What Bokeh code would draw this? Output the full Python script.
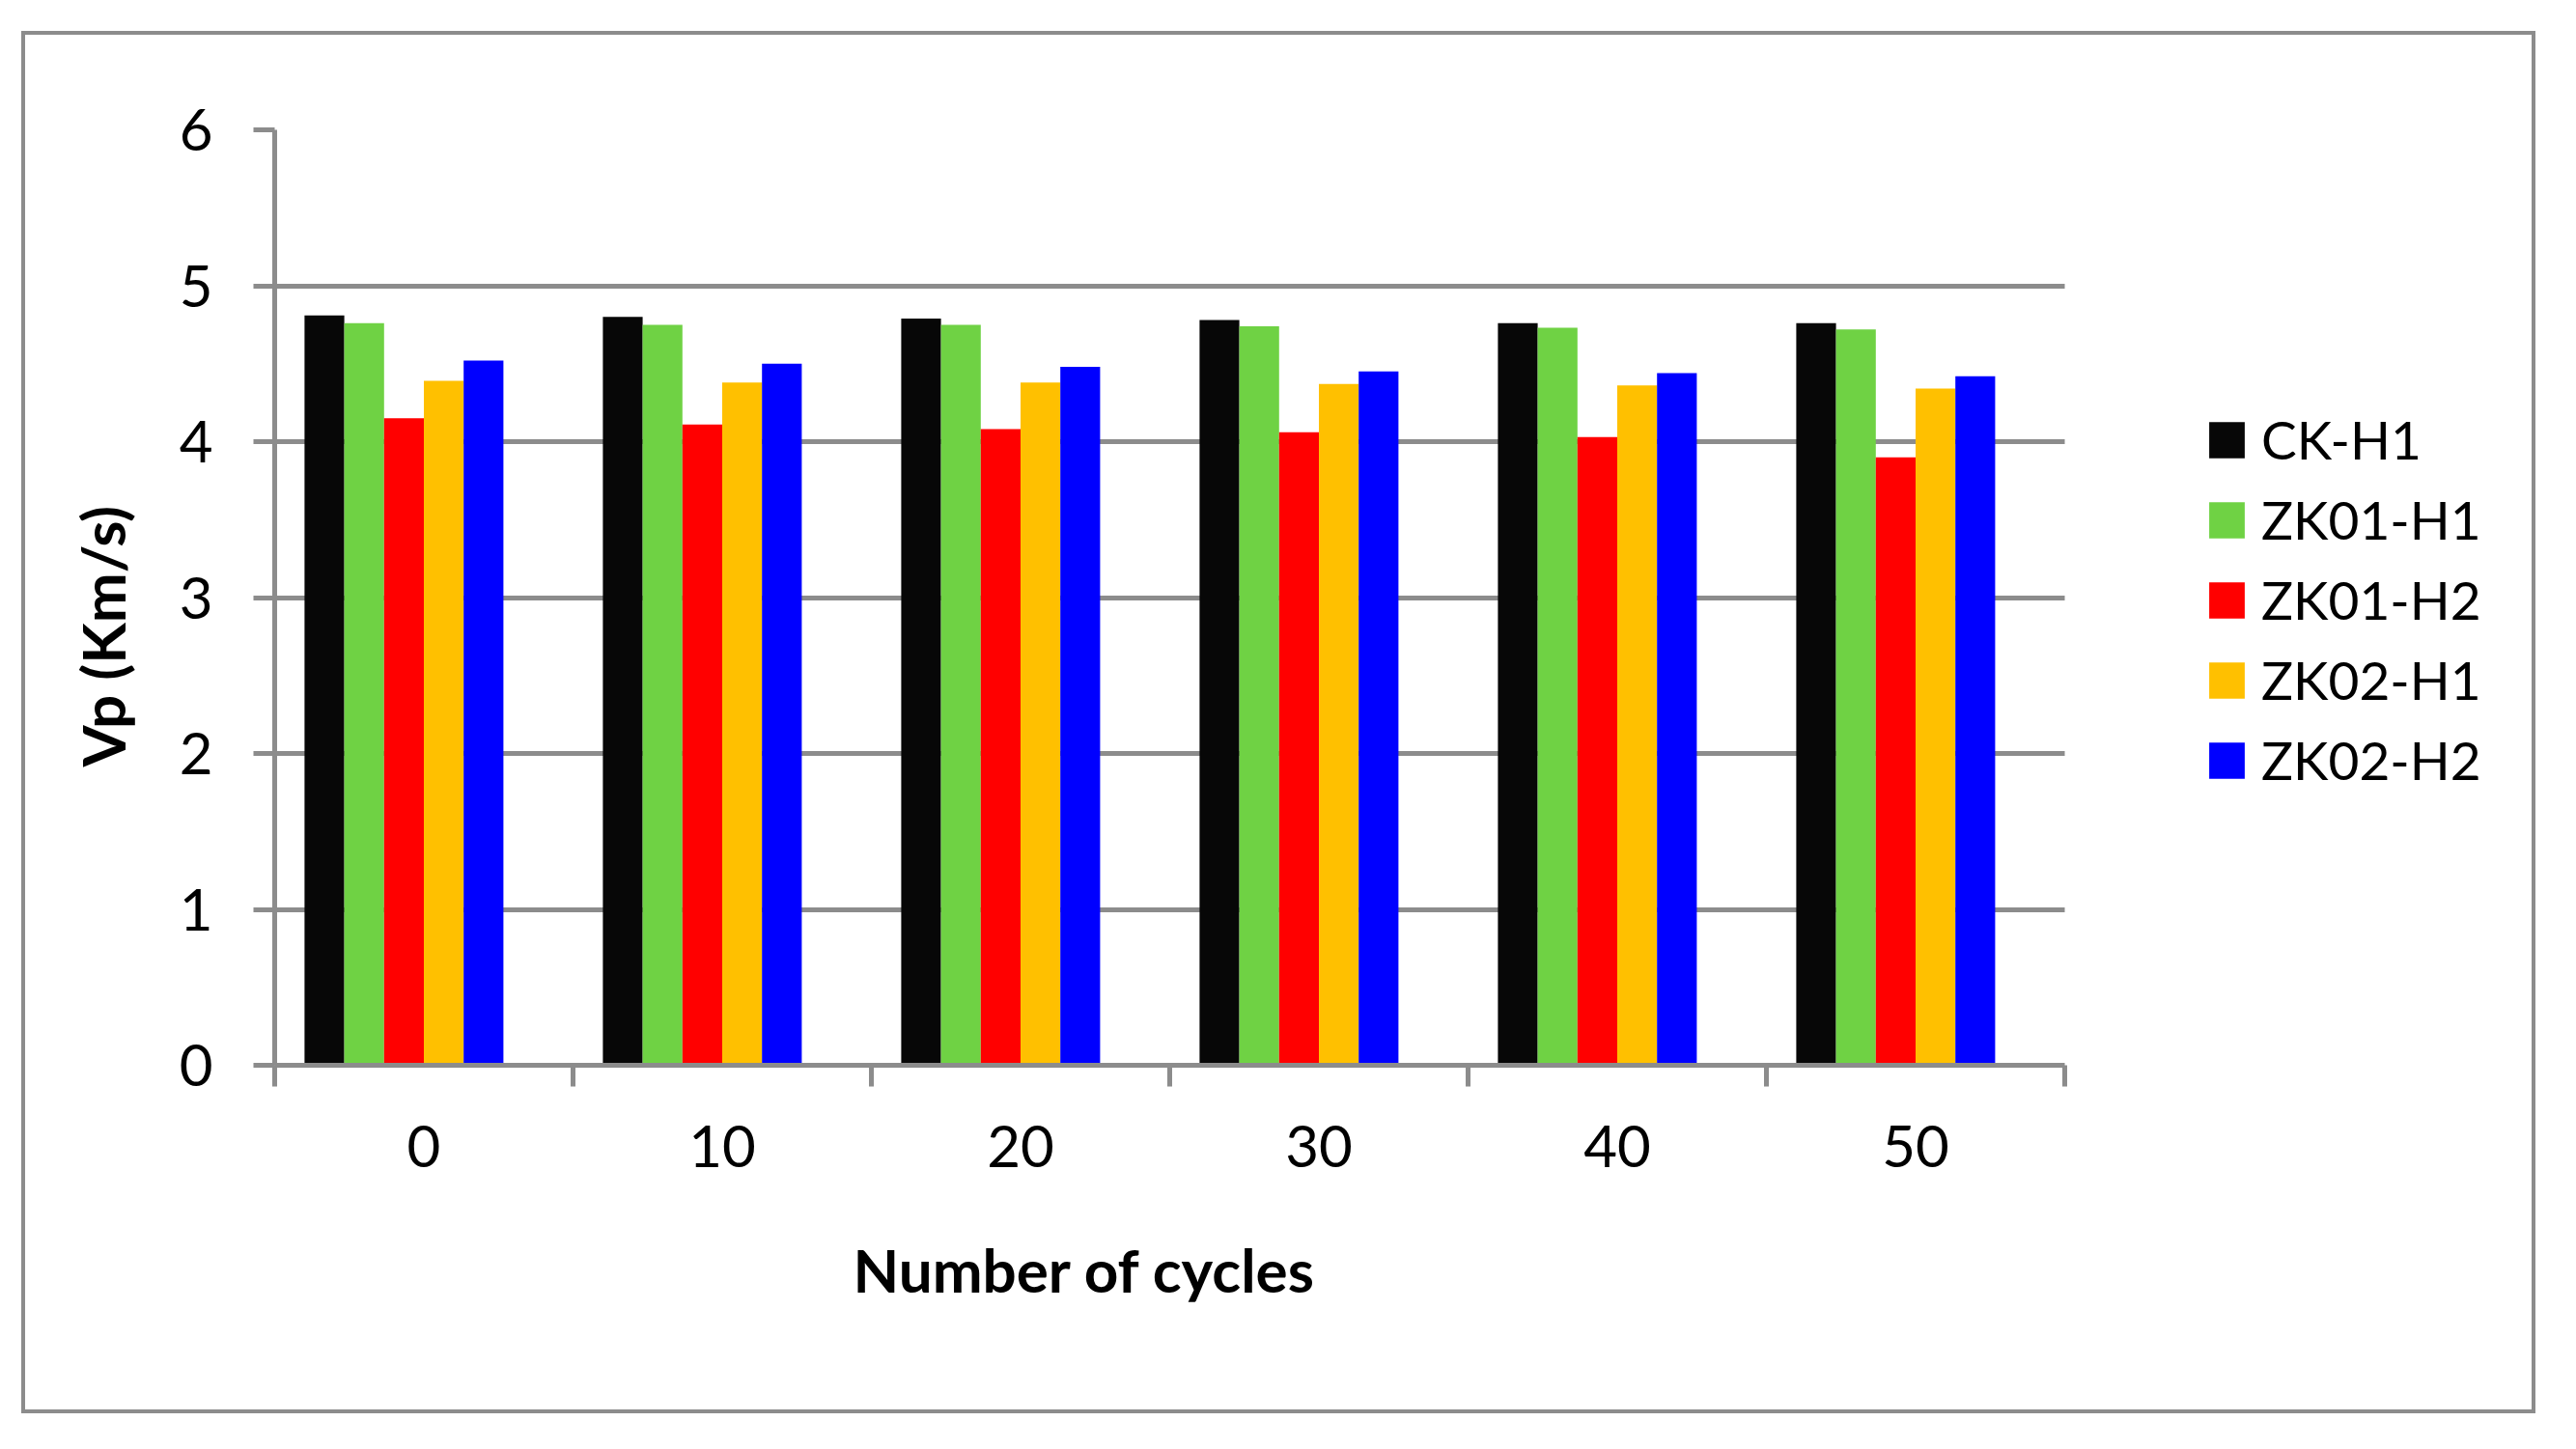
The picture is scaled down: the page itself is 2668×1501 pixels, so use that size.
from bokeh.plotting import figure
from bokeh.models import ColumnDataSource, FixedTicker, Legend, LegendItem, Title, Range1d, Grid
from bokeh.transform import dodge
from bokeh.embed import file_html
from bokeh.resources import INLINE

cycles = ["0", "10", "20", "30", "40", "50"]
series_names = ["CK-H1", "ZK01-H1", "ZK01-H2", "ZK02-H1", "ZK02-H2"]
ck_h1 = [4.81, 4.80, 4.79, 4.78, 4.76, 4.76]
zk01_h1 = [4.76, 4.75, 4.75, 4.74, 4.73, 4.72]
zk01_h2 = [4.15, 4.11, 4.08, 4.06, 4.03, 3.90]
zk02_h1 = [4.39, 4.38, 4.38, 4.37, 4.36, 4.34]
zk02_h2 = [4.52, 4.50, 4.48, 4.45, 4.44, 4.42]
colors = ["#070707", "#6FD244", "#FF0000", "#FFC000", "#0000FF"]
y_ticks = [0, 1, 2, 3, 4, 5, 6]

GRAY = "#8c8c8c"
FONT = "Lato"
FS = "60px"
FS_BOLD = "62px"

n_cat = len(cycles)
AXIS_PX = 1854          # pixel length of the category axis
FRAME_W = 2328          # frame extends to the right to host the legend
x_end = n_cat * FRAME_W / AXIS_PX

centers = [i + 0.5 for i in range(n_cat)]
src = ColumnDataSource(dict(x=centers, s0=ck_h1, s1=zk01_h1, s2=zk01_h2, s3=zk02_h1, s4=zk02_h2))

p = figure(frame_width=FRAME_W, frame_height=969,
           x_range=Range1d(0, x_end), y_range=Range1d(0, 6),
           output_backend="svg", toolbar_location=None,
           min_border_left=256, min_border_right=10, min_border_top=98, min_border_bottom=357,
           margin=(32, 0, 0, 22),
           styles={"border": "4px solid #8c8c8c"})
p.outline_line_color = None
p.background_fill_color = "white"
p.border_fill_color = "white"

bw = 1.0 / 7.5
renderers = []
for k in range(5):
    off = (k - 2.5) * bw
    r = p.vbar(x=dodge("x", off, range=p.x_range), top="s%d" % k, width=bw, bottom=0,
               source=src, fill_color=colors[k], line_color=None)
    renderers.append(r)

# y axis
p.yaxis.ticker = FixedTicker(ticks=y_ticks)
p.yaxis.axis_line_color = GRAY
p.yaxis.axis_line_width = 5
p.yaxis.major_tick_line_color = GRAY
p.yaxis.major_tick_line_width = 5
p.yaxis.major_tick_out = 22
p.yaxis.major_tick_in = 0
p.yaxis.minor_tick_line_color = None
p.yaxis.major_label_text_font = FONT
p.yaxis.major_label_text_font_size = FS
p.yaxis.major_label_text_color = "black"
p.yaxis.major_label_standoff = 42

p.ygrid.grid_line_color = GRAY
p.ygrid.grid_line_width = 5
if "cross_bounds" in Grid.properties():
    p.ygrid.cross_bounds = (0, n_cat)
p.xgrid.grid_line_color = None

# x axis
p.xaxis.bounds = (0, n_cat)
p.xaxis.ticker = FixedTicker(ticks=centers, minor_ticks=list(range(n_cat + 1)))
p.xaxis.major_label_overrides = {c: lab for c, lab in zip(centers, cycles)}
p.xaxis.axis_line_color = GRAY
p.xaxis.axis_line_width = 5
p.xaxis.major_tick_line_color = None
p.xaxis.major_tick_out = 22
p.xaxis.major_tick_in = 0
p.xaxis.minor_tick_line_color = GRAY
p.xaxis.minor_tick_line_width = 5
p.xaxis.minor_tick_out = 22
p.xaxis.minor_tick_in = 0
p.xaxis.major_label_text_font = FONT
p.xaxis.major_label_text_font_size = FS
p.xaxis.major_label_text_color = "black"
p.xaxis.major_label_standoff = 40

xt = Title(text="Number of cycles", align="left", offset=599,
           text_font=FONT, text_font_size=FS_BOLD, text_font_style="bold",
           text_color="black", standoff=128)
p.add_layout(xt, "below")

yt = Title(text="Vp (Km/s)", align="left", offset=309,
           text_font=FONT, text_font_size=FS_BOLD, text_font_style="bold",
           text_color="black", standoff=80)
p.add_layout(yt, "left")

legend = Legend(items=[LegendItem(label=n, renderers=[r]) for n, r in zip(series_names, renderers)],
                location=(1999, 283), orientation="vertical",
                glyph_width=46, glyph_height=47, label_standoff=13, spacing=17,
                padding=0, margin=0, border_line_color=None, background_fill_alpha=0,
                label_text_font=FONT, label_text_font_size="55px", label_text_color="black")
p.add_layout(legend)

open("out.html", "w").write(file_html(p, INLINE))
